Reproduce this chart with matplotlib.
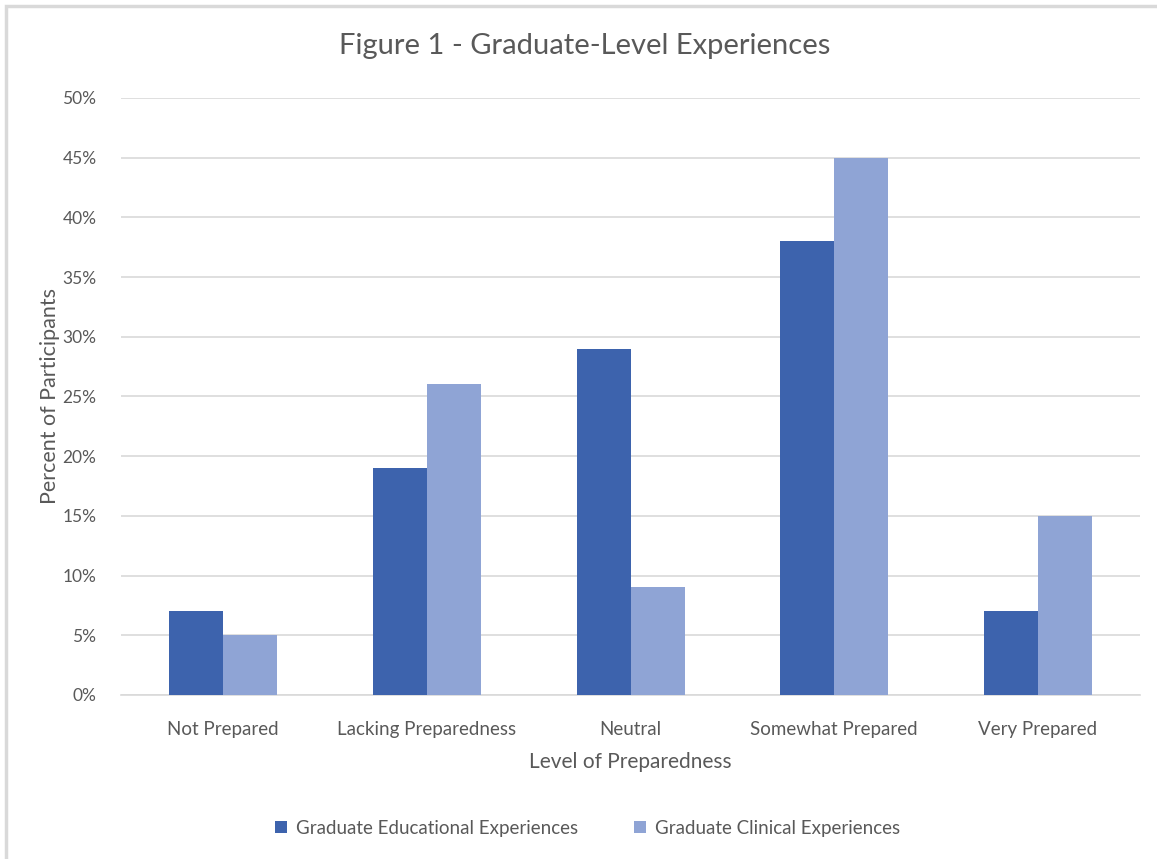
import numpy as np
import matplotlib.pyplot as plt
from matplotlib.ticker import PercentFormatter
from matplotlib.patches import Rectangle

# survey results, percent of participants
levels = ['Not Prepared', 'Lacking Preparedness', 'Neutral', 'Somewhat Prepared', 'Very Prepared']
educational = [7, 19, 29, 38, 7]
clinical = [5, 26, 9, 45, 15]
series_names = ['Graduate Educational Experiences', 'Graduate Clinical Experiences']

dark = '#3d63ad'
light = '#8fa4d5'
grey_txt = '#595959'

plt.rcParams['font.family'] = ['Lato', 'DejaVu Sans']

fig = plt.figure(figsize=(11.57, 8.59), dpi=100)
ax = fig.add_axes([0.105, 0.191, 0.88, 0.695])

x = np.arange(len(levels))
w = 0.265
ax.bar(x - w/2, educational, w, color=dark, label=series_names[0], zorder=3)
ax.bar(x + w/2, clinical, w, color=light, label=series_names[1], zorder=3)

ax.set_xlim(-0.5, len(levels) - 0.5)
ax.set_ylim(0, 50)
ax.set_yticks(np.arange(0, 55, 5))
ax.yaxis.set_major_formatter(PercentFormatter(decimals=0))
ax.grid(axis='y', color='#d9d9d9', linewidth=1.2, zorder=0)
for s in ax.spines.values():
    s.set_visible(False)
ax.spines['bottom'].set_visible(True)
ax.spines['bottom'].set_color('#d9d9d9')
ax.spines['bottom'].set_linewidth(1.2)
ax.tick_params(length=0, colors=grey_txt)
ax.tick_params(axis='y', labelsize=12.5, pad=18)
ax.tick_params(axis='x', labelsize=13.5, pad=19)
ax.set_xticks(x)
ax.set_xticklabels(levels)

ax.set_xlabel('Level of Preparedness', fontsize=15, color=grey_txt, labelpad=10)
ax.set_ylabel('Percent of Participants', fontsize=15.5, color=grey_txt, labelpad=2)
fig.suptitle('Figure 1 - Graduate-Level Experiences', fontsize=21, color=grey_txt,
             x=0.505, y=0.947, va='center')

fig.legend(loc='center', bbox_to_anchor=(0.508, 0.036), ncol=2, frameon=False,
           fontsize=13.5, labelcolor=grey_txt, handlelength=0.6, handleheight=0.6,
           handletextpad=0.5, columnspacing=3.0)

# light frame around the chart area
fig.patches.append(Rectangle((0.005, -0.05), 1.1, 1.043, transform=fig.transFigure,
                             fill=False, edgecolor='#d9d9d9', linewidth=2.5))

plt.savefig('out.png')
